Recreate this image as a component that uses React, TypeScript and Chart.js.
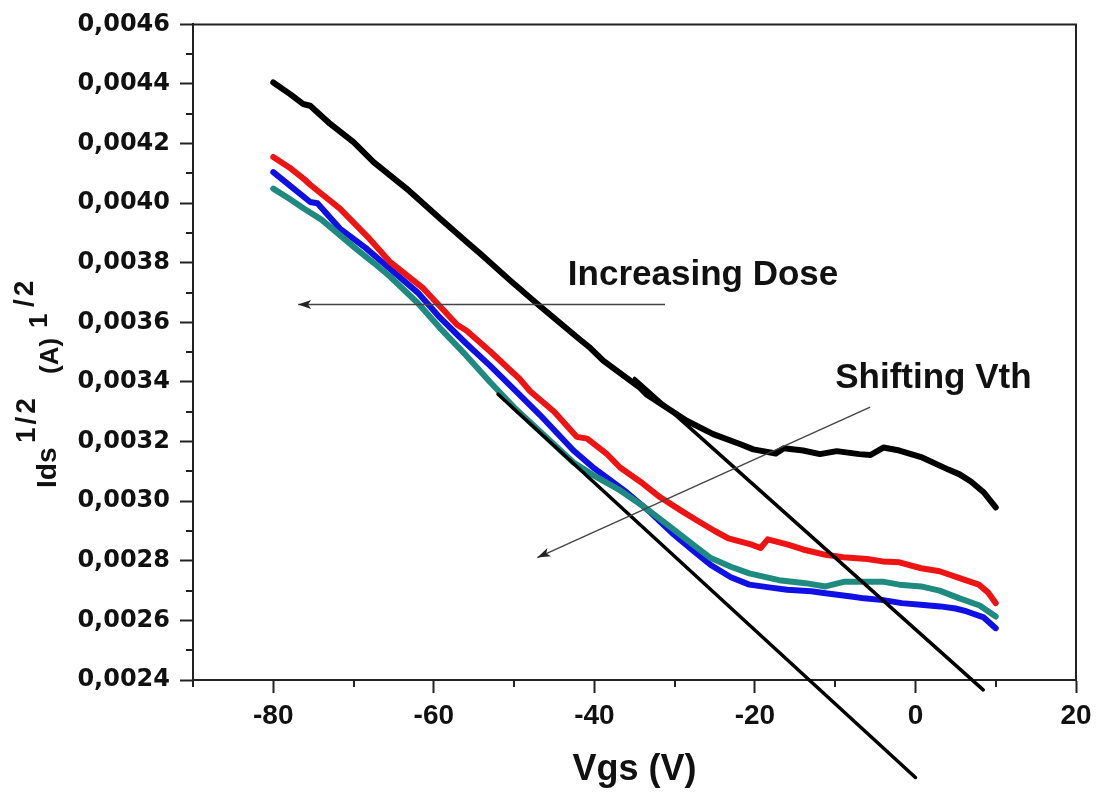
import React, { useEffect, useRef } from 'react';
import { Chart, registerables } from 'chart.js';

Chart.register(...registerables);

// ---------- axis ranges & ticks ----------
const X_MIN = -90;
const X_MAX = 20;
const Y_MIN = 0.0024;
const Y_MAX = 0.0046;
const xTicks = [-80, -60, -40, -20, 0, 20];
const xMinorTicks = [-90, -70, -50, -30, -10, 10];
const yTicks = [0.0024, 0.0026, 0.0028, 0.003, 0.0032, 0.0034, 0.0036, 0.0038, 0.004, 0.0042, 0.0044, 0.0046];
const yMinorTicks = [0.0025, 0.0027, 0.0029, 0.0031, 0.0033, 0.0035, 0.0037, 0.0039, 0.0041, 0.0043, 0.0045];

// ---------- series (Vgs in V, sqrt(Ids) in A^1/2) ----------
const blackV = [-80, -77.9, -76.3, -75.4, -72.9, -70, -67.5, -63.4, -59.2, -55.9, -54.2, -50.5, -46.8, -42, -40.5, -38.9, -34.3, -33.5, -28.5, -25.2, -21.8, -20.2, -17.4, -16.4, -14, -11.9, -9.8, -7, -5.6, -4.0, -2, 0.7, 4.1, 5.5, 6.9, 8.5, 10];
const blackI = [0.004405, 0.004366, 0.004333, 0.004327, 0.004266, 0.004205, 0.004138, 0.004049, 0.003948, 0.00387, 0.00383, 0.003741, 0.003655, 0.003547, 0.003514, 0.003472, 0.00338, 0.003358, 0.00327, 0.003225, 0.003191, 0.003174, 0.00316, 0.003178, 0.00317, 0.003158, 0.003168, 0.003158, 0.003155, 0.00318, 0.00317, 0.003148, 0.003106, 0.00309, 0.003066, 0.00303, 0.002979];

const redV = [-80, -78, -76.2, -75.4, -71.7, -68, -65.5, -61.3, -57.1, -55.9, -53, -49.3, -48, -45, -42.2, -40.9, -38.5, -36.8, -34, -31.8, -29, -27.2, -25, -23.3, -20.5, -19.3, -18.4, -16, -14, -11.2, -9, -6, -4.1, -2, 0.7, 3, 5.5, 7.9, 9, 10];
const redI = [0.004155, 0.00412, 0.004082, 0.004062, 0.003982, 0.00388, 0.003804, 0.003714, 0.003592, 0.003572, 0.003503, 0.00341, 0.003369, 0.0033, 0.003216, 0.00321, 0.00316, 0.003113, 0.00306, 0.003013, 0.002965, 0.002935, 0.0029, 0.002875, 0.002855, 0.002843, 0.002872, 0.002855, 0.002838, 0.00282, 0.002812, 0.002806, 0.002798, 0.002795, 0.002775, 0.002765, 0.002742, 0.00272, 0.002695, 0.002658];

const blueV = [-80, -77.5, -75.4, -74.5, -71.7, -68.5, -65.5, -62, -59.2, -56, -53, -50, -46.8, -42.6, -40, -36, -33, -30.3, -27.5, -25.5, -23, -20.7, -18, -16, -13, -11.2, -8, -6.4, -4, -1.7, 1, 3.1, 5, 6.4, 8.5, 10];
const blueI = [0.004104, 0.00405, 0.004004, 0.004, 0.003915, 0.00385, 0.003781, 0.0037, 0.003615, 0.00353, 0.003455, 0.003375, 0.00329, 0.00317, 0.00311, 0.00303, 0.002962, 0.002893, 0.00283, 0.002786, 0.002745, 0.00272, 0.00271, 0.002703, 0.002698, 0.002691, 0.00268, 0.002674, 0.002668, 0.002658, 0.002652, 0.002647, 0.00264, 0.00263, 0.00261, 0.002574];

const tealV = [-80, -78, -76.2, -74, -71.7, -69.6, -67.5, -65.5, -62, -59.2, -56, -53, -50, -46.8, -42.6, -40, -37, -34, -30.3, -27.5, -25.5, -23, -20.7, -17, -13.7, -11.2, -8.8, -6, -4.1, -2, 0.7, 3, 5.5, 8, 10];
const tealI = [0.004049, 0.004015, 0.003982, 0.003945, 0.003893, 0.003845, 0.0038, 0.003755, 0.003665, 0.00358, 0.00349, 0.0034, 0.003315, 0.003235, 0.00313, 0.003085, 0.00304, 0.002985, 0.002909, 0.00285, 0.002809, 0.00278, 0.002758, 0.002735, 0.002725, 0.002714, 0.00273, 0.00273, 0.00273, 0.00272, 0.002714, 0.0027, 0.002674, 0.00265, 0.002613];

// straight-line fits (threshold extrapolation)
const fitRightV = [-35, 8.44];
const fitRightI = [0.003412, 0.002367];
const fitLeftV = [-52, 0];
const fitLeftI = [0.003359, 0.002073];

// annotations (data coordinates)
const doseArrowV = [-31.2, -76.9];
const doseArrowI = [0.00366, 0.00366];
const doseLabel = 'Increasing Dose';
const doseLabelAt = [-43.3, 0.003727];
const vthArrowV = [-5.64, -47.1];
const vthArrowI = [0.003316, 0.002811];
const vthLabel = 'Shifting Vth';
const vthLabelAt = [-10.0, 0.003379];

const xTitle = 'Vgs (V)';
const yTitleParts = ['Ids', '1/2', '(A)', '1', '/2'];

const toPts = (xs: number[], ys: number[]) => xs.map((x, i) => ({ x, y: ys[i] }));

const FONT = '"Liberation Sans", Arial, sans-serif';
const INK = '#111111';

// pixel placement of the rotated y-title pieces (layout only)
const yTitleLayout = [
  { x: 56, y: 488, size: 28, spacing: 0 },
  { x: 35, y: 443, size: 28, spacing: 3 },
  { x: 58, y: 374, size: 26, spacing: 0 },
  { x: 47, y: 328, size: 26, spacing: 0 },
  { x: 33, y: 307, size: 28, spacing: 3 },
];

function drawArrow(ctx: CanvasRenderingContext2D, x1: number, y1: number, x2: number, y2: number) {
  ctx.save();
  ctx.strokeStyle = '#444';
  ctx.fillStyle = '#222';
  ctx.lineWidth = 1.4;
  ctx.beginPath();
  ctx.moveTo(x1, y1);
  ctx.lineTo(x2, y2);
  ctx.stroke();
  const ang = Math.atan2(y2 - y1, x2 - x1);
  const len = 13;
  const hw = 4.5;
  ctx.beginPath();
  ctx.moveTo(x2, y2);
  ctx.lineTo(x2 - len * Math.cos(ang) + hw * Math.sin(ang), y2 - len * Math.sin(ang) - hw * Math.cos(ang));
  ctx.lineTo(x2 - len * Math.cos(ang) * 0.75, y2 - len * Math.sin(ang) * 0.75);
  ctx.lineTo(x2 - len * Math.cos(ang) - hw * Math.sin(ang), y2 - len * Math.sin(ang) + hw * Math.cos(ang));
  ctx.closePath();
  ctx.fill();
  ctx.restore();
}

const decorPlugin = {
  id: 'decor',
  afterDraw(chart: any) {
    const ctx: CanvasRenderingContext2D = chart.ctx;
    const xs = chart.scales.x;
    const ys = chart.scales.y;
    const { left, right, top, bottom } = chart.chartArea;
    ctx.save();
    // frame top & right
    ctx.strokeStyle = '#222';
    ctx.lineWidth = 2;
    ctx.beginPath();
    ctx.moveTo(left, top);
    ctx.lineTo(right, top);
    ctx.lineTo(right, bottom);
    ctx.stroke();
    // minor ticks
    ctx.beginPath();
    for (const v of xMinorTicks) {
      const px = Math.round(xs.getPixelForValue(v));
      ctx.moveTo(px, bottom);
      ctx.lineTo(px, bottom + 7);
    }
    for (const v of yMinorTicks) {
      const py = Math.round(ys.getPixelForValue(v));
      ctx.moveTo(left - 7, py);
      ctx.lineTo(left, py);
    }
    ctx.stroke();

    // annotations
    drawArrow(ctx, xs.getPixelForValue(doseArrowV[0]), ys.getPixelForValue(doseArrowI[0]), xs.getPixelForValue(doseArrowV[1]), ys.getPixelForValue(doseArrowI[1]));
    drawArrow(ctx, xs.getPixelForValue(vthArrowV[0]), ys.getPixelForValue(vthArrowI[0]), xs.getPixelForValue(vthArrowV[1]), ys.getPixelForValue(vthArrowI[1]));
    ctx.fillStyle = INK;
    ctx.font = `bold 35px ${FONT}`;
    ctx.textAlign = 'left';
    ctx.textBaseline = 'alphabetic';
    ctx.fillText(doseLabel, xs.getPixelForValue(doseLabelAt[0]), ys.getPixelForValue(doseLabelAt[1]));
    ctx.fillText(vthLabel, xs.getPixelForValue(vthLabelAt[0]), ys.getPixelForValue(vthLabelAt[1]));

    // rotated y title
    yTitleParts.forEach((t, i) => {
      const l = yTitleLayout[i];
      ctx.save();
      ctx.translate(l.x, l.y);
      ctx.rotate(-Math.PI / 2);
      ctx.font = `bold ${l.size}px ${FONT}`;
      (ctx as any).letterSpacing = `${l.spacing}px`;
      ctx.fillStyle = INK;
      ctx.textAlign = 'left';
      ctx.textBaseline = 'alphabetic';
      ctx.fillText(t, 0, 0);
      ctx.restore();
    });
    ctx.restore();
  },
};

export default function App() {
  const ref = useRef<HTMLCanvasElement | null>(null);

  useEffect(() => {
    if (!ref.current) return;
    const lineDs = (label: string, pts: any[], color: string, width: number, clip: any) => ({
      label,
      data: pts,
      showLine: true,
      borderColor: color,
      backgroundColor: color,
      borderWidth: width,
      pointRadius: 0,
      pointHoverRadius: 0,
      tension: 0,
      borderCapStyle: 'round',
      borderJoinStyle: 'round',
      clip,
    });
    const chart = new Chart(ref.current, {
      type: 'scatter',
      data: {
        datasets: [
          lineDs('fit right', toPts(fitRightV, fitRightI), '#000000', 3.5, false),
          lineDs('fit left', toPts(fitLeftV, fitLeftI), '#000000', 3.5, false),
          lineDs('dose 0', toPts(blackV, blackI), '#000000', 6, undefined),
          lineDs('dose 1', toPts(redV, redI), '#ee1414', 6, undefined),
          lineDs('dose 3', toPts(tealV, tealI), '#1f8a80', 6, undefined),
          lineDs('dose 2', toPts(blueV, blueI), '#1010e6', 6, undefined),
        ] as any,
      },
      options: {
        animation: false,
        responsive: false,
        devicePixelRatio: 1,
        layout: { padding: { left: 0, top: 22, right: 36, bottom: 0 } },
        plugins: { legend: { display: false }, tooltip: { enabled: false } },
        events: [],
        scales: {
          x: {
            type: 'linear',
            min: X_MIN,
            max: X_MAX,
            afterBuildTicks: (s: any) => {
              s.ticks = xTicks.map((v) => ({ value: v }));
            },
            afterFit: (s: any) => {
              s.height = 116;
            },
            border: { display: true, color: '#222', width: 2 },
            grid: { display: true, drawOnChartArea: false, drawTicks: true, tickLength: 13, tickWidth: 2, tickColor: '#222' },
            ticks: {
              color: INK,
              padding: 6,
              font: { family: FONT, size: 28, weight: 'bold' },
              maxRotation: 0,
              autoSkip: false,
              callback: (v: any) => String(v),
            },
            title: {
              display: true,
              text: xTitle,
              color: INK,
              font: { family: FONT, size: 36, weight: 'bold' },
              padding: { top: 0, bottom: 4 },
            },
          },
          y: {
            type: 'linear',
            min: Y_MIN,
            max: Y_MAX,
            afterBuildTicks: (s: any) => {
              s.ticks = yTicks.map((v) => ({ value: v }));
            },
            afterFit: (s: any) => {
              s.width = 193;
            },
            border: { display: true, color: '#222', width: 2 },
            grid: { display: true, drawOnChartArea: false, drawTicks: true, tickLength: 13, tickWidth: 2, tickColor: '#222' },
            ticks: {
              color: INK,
              padding: 10,
              font: { family: '"DejaVu Sans", sans-serif', size: 24, weight: 'bold' },
              autoSkip: false,
              callback: (v: any) => Number(v).toFixed(4).replace('.', ','),
            },
          },
        },
      } as any,
      plugins: [decorPlugin],
    });
    return () => chart.destroy();
  }, []);

  return (
    <div style={{ position: 'fixed', left: 0, top: 0, width: 1112, height: 796, background: '#fff' }}>
      <canvas ref={ref} width={1112} height={796} style={{ display: 'block' }} />
    </div>
  );
}
